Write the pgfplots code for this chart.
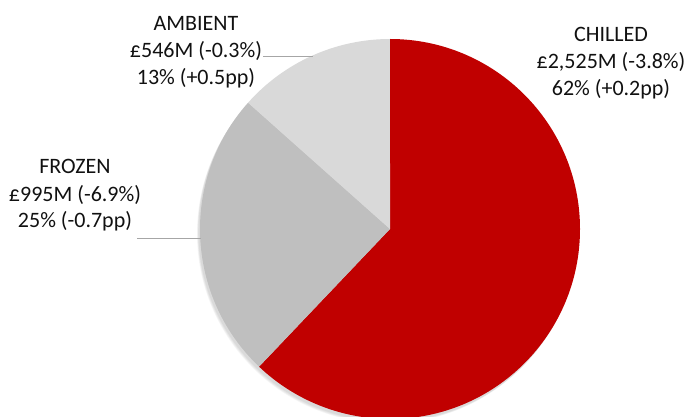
\documentclass[border=0pt]{standalone}
\usepackage{pgfplots}
\pgfplotsset{compat=1.18}
\usepackage{fontspec}
\setmainfont{Carlito}
\definecolor{chilled}{HTML}{C00000}
\definecolor{frozen}{HTML}{BFBFBF}
\definecolor{ambient}{HTML}{D9D9D9}
\definecolor{leader}{HTML}{A6A6A6}
\definecolor{txt}{HTML}{111111}

\begin{document}
\begin{tikzpicture}
\useasboundingbox (0,0) rectangle (687bp,417bp);
% sales value in GBP millions, slices run clockwise from 12 o'clock
\pgfmathsetmacro{\vChilled}{2525}
\pgfmathsetmacro{\vFrozen}{995}
\pgfmathsetmacro{\vAmbient}{546}
\pgfmathsetmacro{\total}{\vChilled+\vFrozen+\vAmbient}
\pgfmathsetmacro{\aA}{90}
\pgfmathsetmacro{\aB}{\aA-360*(\vChilled/\total)}
\pgfmathsetmacro{\aC}{\aB-360*(\vFrozen/\total)}
\pgfmathsetmacro{\aD}{\aC-360*(\vAmbient/\total)}
\def\cx{390}\def\cy{188}\def\rad{190}
\begin{axis}[
  at={(0,0)}, anchor=south west,
  scale only axis, width=687bp, height=417bp,
  xmin=0, xmax=687, ymin=0, ymax=417,
  hide axis, clip=true,
]
% soft shadow under the pie
\pgfplotsinvokeforeach{1,...,5}{
  \fill[black, opacity=0.03] (axis cs:{\cx-1-0.4*#1},{\cy-2-0.5*#1}) circle[radius=\rad bp];
}
\fill[chilled] (axis cs:\cx,\cy) -- (axis cs:{\cx+\rad*cos(\aA)},{\cy+\rad*sin(\aA)})
  arc[start angle=\aA, end angle=\aB, radius=\rad bp] -- cycle;
\fill[frozen] (axis cs:\cx,\cy) -- (axis cs:{\cx+\rad*cos(\aB)},{\cy+\rad*sin(\aB)})
  arc[start angle=\aB, end angle=\aC, radius=\rad bp] -- cycle;
\fill[ambient] (axis cs:\cx,\cy) -- (axis cs:{\cx+\rad*cos(\aC)},{\cy+\rad*sin(\aC)})
  arc[start angle=\aC, end angle=\aD, radius=\rad bp] -- cycle;
% leader lines
\draw[leader, line width=0.8bp] (axis cs:263,360.3) -- (axis cs:313,360.3);
\draw[leader, line width=0.8bp] (axis cs:137,178.7) -- (axis cs:201,178.7);
% data labels
\tikzset{lab/.style={anchor=base, inner sep=0pt, text=txt, font=\fontsize{22bp}{26bp}\selectfont}}
\node[lab] at (axis cs:611,375.3) {CHILLED};
\node[lab] at (axis cs:611,348.5) {£2,525M (-3.8\%)};
\node[lab] at (axis cs:611,321.3) {62\% (+0.2pp)};
\node[lab] at (axis cs:196,386) {AMBIENT};
\node[lab] at (axis cs:196,359) {£546M (-0.3\%)};
\node[lab] at (axis cs:196,332) {13\% (+0.5pp)};
\node[lab] at (axis cs:75,243) {FROZEN};
\node[lab] at (axis cs:75,215.5) {£995M (-6.9\%)};
\node[lab] at (axis cs:75,189) {25\% (-0.7pp)};
\end{axis}
\end{tikzpicture}
\end{document}
